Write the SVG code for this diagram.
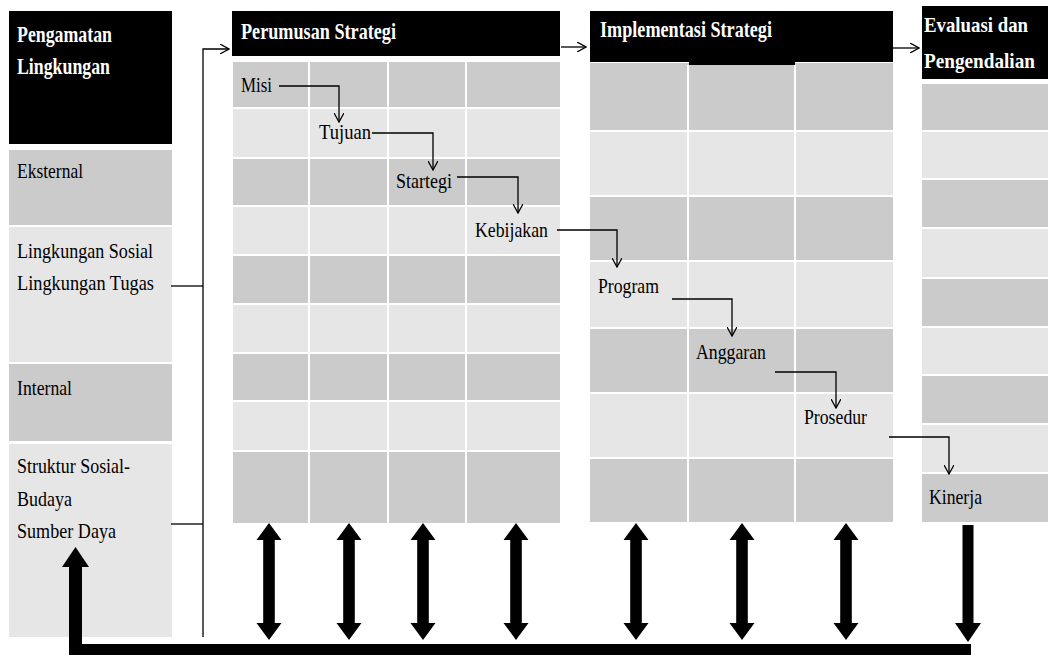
<svg xmlns="http://www.w3.org/2000/svg" xmlns:xlink="http://www.w3.org/1999/xlink" width="1048" height="655" viewBox="0 0 1048 655">
<style>
.g{fill:#cbcbcb}
.l{fill:#e6e6e6}
.hd{fill:#000}
.dv{stroke:#fff;stroke-width:2}
.t{font-family:'Liberation Serif','DejaVu Serif',serif;font-size:22px;fill:#000}
.h{font-family:'Liberation Serif','DejaVu Serif',serif;font-size:23px;font-weight:bold;fill:#fff}
.hs{font-size:21px}
.c{fill:none;stroke:#000;stroke-width:1.3}
.thick{fill:#000}
</style>
<defs>
<marker id="open" viewBox="0 0 10 10" refX="9" refY="5" markerWidth="10" markerHeight="10" markerUnits="userSpaceOnUse" orient="auto">
<path d="M0,0 L9,5 L0,10" fill="none" stroke="#000" stroke-width="1.3"/>
</marker>
<path id="dbl" d="M0,523 L12.5,540 L5.8,540 L5.8,623 L12.5,623 L0,640 L-12.5,623 L-5.8,623 L-5.8,540 L-12.5,540 Z"/>
</defs>
<rect width="1048" height="655" fill="#fff"/>

<g id="pengamatan">
<rect class="hd" x="9" y="11" width="163" height="133"/>
<text class="h" x="17" y="42" textLength="95" lengthAdjust="spacingAndGlyphs">Pengamatan</text>
<text class="h" x="17" y="74" textLength="93" lengthAdjust="spacingAndGlyphs">Lingkungan</text>
<rect class="g" x="9" y="150" width="163" height="75"/>
<rect class="l" x="9" y="227" width="163" height="135"/>
<rect class="g" x="9" y="364" width="163" height="77"/>
<rect class="l" x="9" y="444" width="163" height="193"/>
<text class="t" x="17" y="178" textLength="66" lengthAdjust="spacingAndGlyphs">Eksternal</text>
<text class="t" x="17" y="258" textLength="136" lengthAdjust="spacingAndGlyphs">Lingkungan Sosial</text>
<text class="t" x="17" y="290" textLength="137" lengthAdjust="spacingAndGlyphs">Lingkungan Tugas</text>
<text class="t" x="17" y="395" textLength="55" lengthAdjust="spacingAndGlyphs">Internal</text>
<text class="t" x="17" y="473" textLength="113" lengthAdjust="spacingAndGlyphs">Struktur Sosial-</text>
<text class="t" x="17" y="506" textLength="55" lengthAdjust="spacingAndGlyphs">Budaya</text>
<text class="t" x="17" y="538" textLength="99" lengthAdjust="spacingAndGlyphs">Sumber Daya</text>
</g>

<g id="perumusan">
<rect class="hd" x="232" y="11" width="328" height="45"/>
<text class="h" x="241" y="39" textLength="155" lengthAdjust="spacingAndGlyphs">Perumusan Strategi</text>
<rect class="g" x="233" y="62" width="327" height="45"/>
<rect class="l" x="233" y="109" width="327" height="48"/>
<rect class="g" x="233" y="159" width="327" height="46"/>
<rect class="l" x="233" y="207" width="327" height="47"/>
<rect class="g" x="233" y="256" width="327" height="47"/>
<rect class="l" x="233" y="305" width="327" height="47"/>
<rect class="g" x="233" y="354" width="327" height="46"/>
<rect class="l" x="233" y="402" width="327" height="48"/>
<rect class="g" x="233" y="452" width="327" height="71"/>
<line class="dv" x1="309" y1="62" x2="309" y2="523"/>
<line class="dv" x1="388" y1="62" x2="388" y2="523"/>
<line class="dv" x1="466" y1="62" x2="466" y2="523"/>
<text class="t" x="241" y="92" textLength="31" lengthAdjust="spacingAndGlyphs">Misi</text>
<text class="t" x="319" y="139" textLength="52" lengthAdjust="spacingAndGlyphs">Tujuan</text>
<text class="t" x="396" y="188" textLength="56" lengthAdjust="spacingAndGlyphs">Startegi</text>
<text class="t" x="475" y="237" textLength="73" lengthAdjust="spacingAndGlyphs">Kebijakan</text>
</g>

<g id="implementasi">
<rect class="hd" x="590" y="11" width="303" height="51"/>
<text class="h" x="600" y="37" textLength="172" lengthAdjust="spacingAndGlyphs">Implementasi Strategi</text>
<rect class="g" x="590" y="63" width="303" height="67"/>
<rect class="hd" x="689" y="61" width="106" height="4"/>
<rect class="l" x="590" y="132" width="303" height="63"/>
<rect class="g" x="590" y="197" width="303" height="63"/>
<rect class="l" x="590" y="262" width="303" height="65"/>
<rect class="g" x="590" y="329" width="303" height="63"/>
<rect class="l" x="590" y="394" width="303" height="63"/>
<rect class="g" x="590" y="459" width="303" height="63"/>
<line class="dv" x1="688" y1="65" x2="688" y2="522"/>
<line class="dv" x1="795" y1="65" x2="795" y2="522"/>
<text class="t" x="598" y="293" textLength="61" lengthAdjust="spacingAndGlyphs">Program</text>
<text class="t" x="696" y="359" textLength="70" lengthAdjust="spacingAndGlyphs">Anggaran</text>
<text class="t" x="804" y="424" textLength="63" lengthAdjust="spacingAndGlyphs">Prosedur</text>
</g>

<g id="evaluasi">
<rect class="hd" x="922" y="6" width="126" height="73"/>
<text class="h hs" x="924" y="32" textLength="104" lengthAdjust="spacingAndGlyphs">Evaluasi dan</text>
<text class="h hs" x="924" y="68" textLength="111" lengthAdjust="spacingAndGlyphs">Pengendalian</text>
<rect class="g" x="922" y="84" width="126" height="46"/>
<rect class="l" x="922" y="132" width="126" height="46"/>
<rect class="g" x="922" y="180" width="126" height="47"/>
<rect class="l" x="922" y="229" width="126" height="48"/>
<rect class="g" x="922" y="279" width="126" height="47"/>
<rect class="l" x="922" y="328" width="126" height="46"/>
<rect class="g" x="922" y="376" width="126" height="47"/>
<rect class="l" x="922" y="425" width="126" height="47"/>
<rect class="g" x="922" y="474" width="126" height="48"/>
<text class="t" x="929" y="504" textLength="53" lengthAdjust="spacingAndGlyphs">Kinerja</text>
</g>

<g id="connectors">
<path class="c" d="M203,637 V49 H229" marker-end="url(#open)"/>
<path class="c" d="M171,286 H203"/>
<path class="c" d="M171,524 H203"/>
<path class="c" d="M561,47 H586" marker-end="url(#open)"/>
<path class="c" d="M893,48 H919" marker-end="url(#open)"/>
<path class="c" d="M279,86 H339 V122" marker-end="url(#open)"/>
<path class="c" d="M372,133 H433 V170" marker-end="url(#open)"/>
<path class="c" d="M457,177 H518 V213" marker-end="url(#open)"/>
<path class="c" d="M557,230 H617 V267" marker-end="url(#open)"/>
<path class="c" d="M672,299 H732 V336" marker-end="url(#open)"/>
<path class="c" d="M775,372 H836 V408" marker-end="url(#open)"/>
<path class="c" d="M889,437 H949 V474" marker-end="url(#open)"/>
<use href="#dbl" xlink:href="#dbl" x="269" class="thick"/>
<use href="#dbl" xlink:href="#dbl" x="349" class="thick"/>
<use href="#dbl" xlink:href="#dbl" x="423" class="thick"/>
<use href="#dbl" xlink:href="#dbl" x="516" class="thick"/>
<use href="#dbl" xlink:href="#dbl" x="636" class="thick"/>
<use href="#dbl" xlink:href="#dbl" x="742" class="thick"/>
<use href="#dbl" xlink:href="#dbl" x="846" class="thick"/>
<path class="thick" d="M962.5,525 H973.5 V623 H981 L968,642 L955,623 H962.5 Z"/>
<path class="thick" d="M69,567 H62 L75.5,547 L89,567 H82 V644 H971 V655 H69 Z"/>
</g>
</svg>
